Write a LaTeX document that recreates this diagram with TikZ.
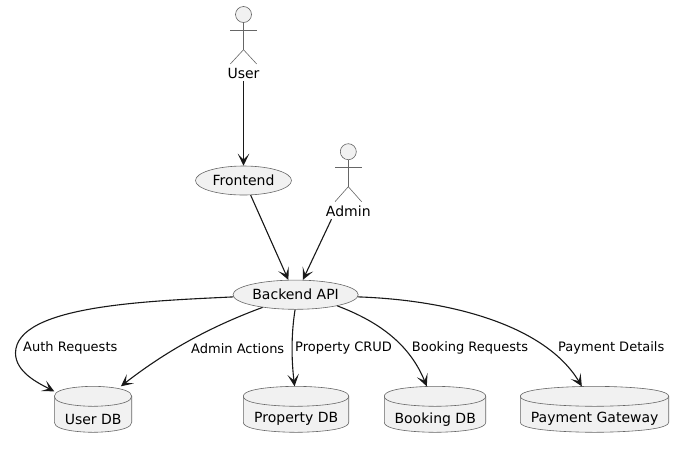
\documentclass[tikz,border=0pt]{standalone}
\usepackage{fontspec}
\setmainfont{DejaVu Sans}
\usetikzlibrary{shapes.geometric,arrows.meta}
\definecolor{nodefill}{HTML}{F1F1F1}
\definecolor{nodeline}{HTML}{181818}
\definecolor{thingray}{HTML}{666666}
\tikzstyle{nodeuse} = [ellipse,draw=thingray,line width=0.6pt,fill=nodefill,inner sep=0pt,font=\fontsize{14}{16}\selectfont]
\tikzstyle{nodehead} = [circle,draw=thingray,line width=0.6pt,fill=nodefill,inner sep=0pt,minimum size=16pt]
\tikzstyle{nodeactor} = [inner sep=0pt,minimum height=16pt,font=\fontsize{14}{16}\selectfont]
\tikzstyle{nodedb} = [rectangle,anchor=north west,inner sep=0pt,minimum height=46pt]
\tikzstyle{dbtext} = [inner sep=0pt,yshift=-9.7pt,font=\fontsize{14}{16}\selectfont]
\tikzstyle{edgetext} = [anchor=west,inner sep=0pt,font=\fontsize{13}{15}\selectfont]
\tikzstyle{thinline} = [draw=thingray,line width=0.6pt]
\tikzstyle{arrow} = [draw=nodeline,line width=1.1pt,-{Stealth[length=12pt,width=11.5pt,inset=6pt]}]
% name, left edge, width, text
\newcommand{\dbnode}[4]{
\draw[thinline,fill=nodefill,shift={(#2,386.3)},x=#3pt] (0,10) .. controls (0,0) and (0.5,0) .. (0.5,0) .. controls (0.5,0) and (1,0) .. (1,10) -- (1,36) .. controls (1,46) and (0.5,46) .. (0.5,46) .. controls (0.5,46) and (0,46) .. (0,36) -- cycle;
\draw[thinline,shift={(#2,386.3)},x=#3pt] (0,10) .. controls (0,20) and (0.5,20) .. (0.5,20) .. controls (0.5,20) and (1,20) .. (1,10);
\node (#1) [nodedb,minimum width=#3pt,label={[dbtext]center:#4}] at (#2,386.3) {};
}

\begin{document}
\begin{tikzpicture}[x=1pt,y=-1pt]
\useasboundingbox (0,0) rectangle (684,448);

\node (userhead)  [nodehead] at (243.5,14.5) {};
\coordinate (userhip) at (243.5,49.7);
\node (user)      [nodeactor] at (243.5,73) {User};
\draw[thinline] (userhead) -- (userhip);
\draw[thinline] (230.3,30.3) -- (256.7,30.3);
\draw[thinline] (230.3,64) -- (userhip) -- (256.7,64);

\node (adminhead) [nodehead] at (348.3,151.7) {};
\coordinate (adminhip) at (348.3,186.7);
\node (admin)     [nodeactor] at (348.3,211) {Admin};
\draw[thinline] (adminhead) -- (adminhip);
\draw[thinline] (335,167.3) -- (361.6,167.3);
\draw[thinline] (335,201.7) -- (adminhip) -- (361.6,201.7);

\node (frontend)  [nodeuse,minimum width=96pt,minimum height=29pt] at (243.5,180.5) {Frontend};
\node (backend)   [nodeuse,minimum width=125.2pt,minimum height=29.2pt] at (295.6,294.7) {Backend API};

\dbnode{userdb}{54.3}{77.4}{User DB}
\dbnode{propertydb}{243.3}{105.4}{Property DB}
\dbnode{bookingdb}{384.3}{101.4}{Booking DB}
\dbnode{paymentgw}{520.3}{148.4}{Payment Gateway}

\draw[arrow] (user) -- (frontend);
\draw[arrow] (frontend.296) -- (backend.116);
\draw[arrow] (admin.206) -- (backend.64);

\draw[arrow] (backend.182) .. controls (150,301) and (16,305) .. (15.5,353) .. controls (15.5,372) and (38,383) .. (userdb.155);
\draw[arrow] (backend.201) .. controls (215,325) and (170,348) .. (userdb.40);
\draw[arrow] (backend.268) .. controls (291,335) and (291.5,360) .. (propertydb.94);
\draw[arrow] (backend.345) .. controls (380,322) and (410,345) .. (bookingdb.110);
\draw[arrow] (backend.358) .. controls (450,300) and (545,325) .. (paymentgw.119);

\node (authlabel)    [edgetext] at (23,348.3) {Auth Requests};
\node (adminlabel)   [edgetext] at (191,348.3) {Admin Actions};
\node (propertylabel)[edgetext] at (295,348.3) {Property CRUD};
\node (bookinglabel) [edgetext] at (411.7,348.3) {Booking Requests};
\node (paymentlabel) [edgetext] at (558,348.3) {Payment Details};

\end{tikzpicture}
\end{document}
